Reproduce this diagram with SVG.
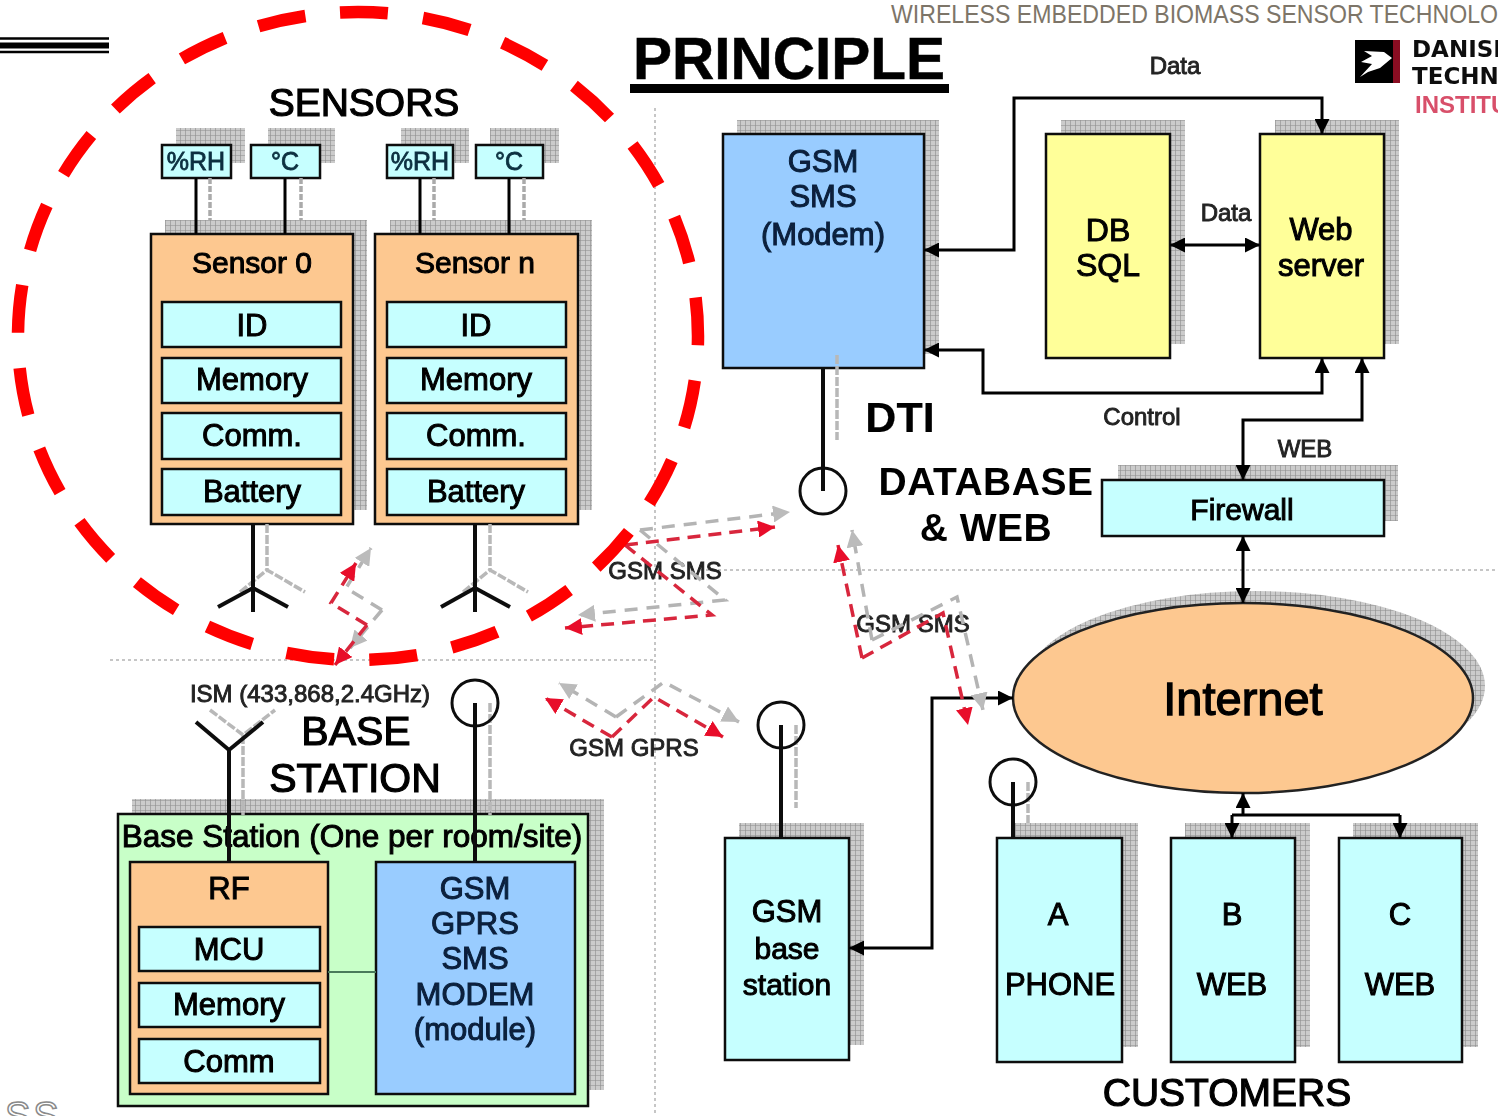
<svg xmlns="http://www.w3.org/2000/svg" width="1498" height="1116" viewBox="0 0 1498 1116">
<style>
text{font-family:"Liberation Sans",Arial,sans-serif;fill:#000;text-anchor:middle}
.sh{fill:url(#grid)}
.box{stroke:#111;stroke-width:2.5}
.or{fill:#fdc890}.cy{fill:#c6ffff}.bl{fill:#99ccff}.ye{fill:#ffff99}.gr{fill:#c8ffc8}
.t31{font-size:31px;stroke:#000;stroke-width:1}
.t30{font-size:30px;stroke:#000;stroke-width:1}
.t24{font-size:24px;stroke:#222;stroke-width:.9;fill:#222}
.big{font-size:41px;stroke:#000;stroke-width:1.2}
.tag{font-size:25px;fill:#0b3040;stroke:#0b3040;stroke-width:.8}
.navy{font-size:31px;fill:#08203c;stroke:#08203c;stroke-width:1}
.wire{fill:none;stroke:#000;stroke-width:3}
.ant{fill:none;stroke:#111;stroke-width:4}
.gw{fill:none;stroke:#aaa;stroke-width:3.5;stroke-dasharray:6 2}
.ga{fill:none;stroke:#b8b8b8;stroke-width:3.5;stroke-dasharray:9 2}
.circ{fill:none;stroke:#111;stroke-width:3}
.dot{fill:none;stroke:#b4b4b4;stroke-width:1.5;stroke-dasharray:3 3}
.rd{fill:none;stroke:#d8283c;stroke-width:3.5;stroke-dasharray:13 8}
.gd{fill:none;stroke:#b4b4b4;stroke-width:3.5;stroke-dasharray:13 9}
</style>
<defs>
<pattern id="grid" width="5" height="5" patternUnits="userSpaceOnUse"><rect width="5" height="5" fill="#cbcbcb"/><path d="M0 0H5M0 0V5" stroke="#8c8c8c" stroke-width="1.200" fill="none"/></pattern>
<marker id="ab" viewBox="0 0 10 10" refX="10" refY="5" markerWidth="15" markerHeight="15" markerUnits="userSpaceOnUse" orient="auto-start-reverse"><path d="M0 0L10 5L0 10Z" fill="#000"/></marker>
<marker id="ar" viewBox="0 0 10 10" refX="10" refY="5" markerWidth="17" markerHeight="17" markerUnits="userSpaceOnUse" orient="auto"><path d="M0 0L10 5L0 10Z" fill="#e8102a"/></marker>
<marker id="ag" viewBox="0 0 10 10" refX="10" refY="5" markerWidth="17" markerHeight="17" markerUnits="userSpaceOnUse" orient="auto"><path d="M0 0L10 5L0 10Z" fill="#bbb"/></marker>
<filter id="soft" x="0" y="0" width="100%" height="100%"><feGaussianBlur stdDeviation="0.6"/></filter>
</defs>
<rect width="1498" height="1116" fill="#fff"/>
<g id="page">
<text x="891" y="23" style="font-size:26px;fill:#7d7568;text-anchor:start" textLength="607" lengthAdjust="spacingAndGlyphs">WIRELESS EMBEDDED BIOMASS SENSOR TECHNOLO</text>
<path d="M0 38.5H109M0 52H109" stroke="#000" stroke-width="2.5"/><path d="M0 45.500H109" stroke="#000" stroke-width="6"/>
<text x="5" y="1129" style="font-size:38px;fill:#fff;stroke:#8a8a8a;stroke-width:1.5;text-anchor:start;letter-spacing:3px">SS</text>
</g>
<g filter="url(#soft)">
<g id="guides">
<path class="dot" d="M655 108V1116M110 660H655M700 570H1498"/>
</g>
<g id="title">
<text x="789" y="79" style="font-size:58.500px;font-weight:bold;fill:#000;stroke:#000;stroke-width:.5">PRINCIPLE</text>
<rect x="630" y="84" width="319" height="9" fill="#000"/>
</g>
<g id="logo">
<rect x="1355" y="40" width="45" height="43" fill="#000"/><rect x="1393" y="40" width="7" height="43" fill="#8a1020"/>
<path d="M1360 77L1372 64L1361 62L1372 56L1364 51L1384 52L1392 58L1380 68L1368 72Z" fill="#fff"/>
<text x="1412" y="57" style="font-size:23px;font-weight:bold;font-family:'DejaVu Sans',sans-serif;text-anchor:start;fill:#111">DANISH</text>
<text x="1412" y="84" style="font-size:23px;font-weight:bold;font-family:'DejaVu Sans',sans-serif;text-anchor:start;fill:#111">TECHNO</text>
<text x="1415" y="113" style="font-size:24px;font-family:'Liberation Sans',sans-serif;font-weight:bold;text-anchor:start;fill:#d8506a">INSTITU</text>
</g>
<text id="sensors-title" x="364" y="116" class="big" style="font-size:39px">SENSORS</text>
<g id="tag-rh0"><rect class="sh" x="176" y="128" width="69" height="35"/><rect class="box cy" x="162" y="145" width="69" height="33"/><text x="196" y="170" class="tag">%RH</text></g>
<g id="tag-c0"><rect class="sh" x="268" y="128" width="67" height="35"/><rect class="box cy" x="251" y="145" width="69" height="33"/><text x="285" y="170" class="tag">°C</text></g>
<g id="tag-rhn"><rect class="sh" x="401" y="128" width="68" height="35"/><rect class="box cy" x="387" y="145" width="66" height="33"/><text x="420" y="170" class="tag">%RH</text></g>
<g id="tag-cn"><rect class="sh" x="490" y="128" width="69" height="35"/><rect class="box cy" x="476" y="145" width="67" height="33"/><text x="509" y="170" class="tag">°C</text></g>
<g id="sensor-0">
<rect class="sh" x="165" y="220" width="202" height="290"/><rect class="box or" x="151" y="234" width="202" height="290"/>
<text x="252" y="273" class="t30">Sensor 0</text>
<rect class="box cy" x="162" y="302" width="179" height="45"/><text x="252" y="336" class="t31">ID</text>
<rect class="box cy" x="162" y="358" width="179" height="45"/><text x="252" y="390" class="t31">Memory</text>
<rect class="box cy" x="162" y="413" width="179" height="46"/><text x="252" y="446" class="t31">Comm.</text>
<rect class="box cy" x="162" y="469" width="179" height="46"/><text x="252" y="502" class="t31">Battery</text>
</g>
<g id="sensor-n">
<rect class="sh" x="390" y="220" width="202" height="290"/><rect class="box or" x="375" y="234" width="203" height="290"/>
<text x="475" y="273" class="t30">Sensor n</text>
<rect class="box cy" x="387" y="302" width="179" height="45"/><text x="476" y="336" class="t31">ID</text>
<rect class="box cy" x="387" y="358" width="179" height="45"/><text x="476" y="390" class="t31">Memory</text>
<rect class="box cy" x="387" y="413" width="179" height="46"/><text x="476" y="446" class="t31">Comm.</text>
<rect class="box cy" x="387" y="469" width="179" height="46"/><text x="476" y="502" class="t31">Battery</text>
</g>
<g id="modem">
<rect class="sh" x="737" y="120" width="202" height="234"/><rect class="box bl" x="723" y="134" width="201" height="234"/>
<text x="823" y="172" class="navy">GSM</text><text x="823" y="207" class="navy">SMS</text><text x="823" y="245" class="navy">(Modem)</text>
</g>
<g id="db">
<rect class="sh" x="1061" y="120" width="124" height="224"/><rect class="box ye" x="1046" y="134" width="124" height="224"/>
<text x="1108" y="241" class="t31" style="font-size:32px">DB</text><text x="1108" y="276" class="t31" style="font-size:32px">SQL</text>
</g>
<g id="web">
<rect class="sh" x="1275" y="120" width="124" height="224"/><rect class="box ye" x="1260" y="134" width="124" height="224"/>
<text x="1321" y="240" class="t31">Web</text><text x="1321" y="276" class="t31">server</text>
</g>
<g id="firewall">
<rect class="sh" x="1118" y="465" width="280" height="56"/><rect class="box cy" x="1102" y="480" width="282" height="56"/>
<text x="1242" y="520" class="t30">Firewall</text>
</g>
<g id="internet">
<ellipse class="sh" cx="1255" cy="686" rx="230" ry="95"/>
<ellipse cx="1243" cy="698" rx="230" ry="95" fill="#fdc890" stroke="#222" stroke-width="2.5"/>
<text x="1243" y="715" style="font-size:47px;stroke:#000;stroke-width:1.300">Internet</text>
</g>
<g id="gsm-base">
<rect class="sh" x="739" y="823" width="125" height="222"/><rect class="box cy" x="725" y="838" width="124" height="222"/>
<text x="787" y="922" class="t31">GSM</text><text x="787" y="959" class="t30">base</text><text x="787" y="995" class="t30">station</text>
</g>
<g id="customer-a">
<rect class="sh" x="1013" y="823" width="125" height="224"/><rect class="box cy" x="997" y="838" width="125" height="224"/>
<text x="1058" y="925" class="t31">A</text><text x="1060" y="995" class="t31">PHONE</text>
</g>
<g id="customer-b">
<rect class="sh" x="1185" y="823" width="125" height="224"/><rect class="box cy" x="1171" y="838" width="124" height="224"/>
<text x="1232" y="925" class="t31">B</text><text x="1232" y="995" class="t31">WEB</text>
</g>
<g id="customer-c">
<rect class="sh" x="1353" y="823" width="125" height="224"/><rect class="box cy" x="1339" y="838" width="123" height="224"/>
<text x="1400" y="925" class="t31">C</text><text x="1400" y="995" class="t31">WEB</text>
</g>
<g id="base-station">
<rect class="sh" x="132" y="799" width="472" height="291"/><rect class="box gr" x="118" y="814" width="470" height="292"/>
<text x="352" y="847" class="t30" style="font-size:31.500px">Base Station (One per room/site)</text>
<rect class="box or" x="130" y="862" width="198" height="232"/>
<text x="229" y="899" class="t31">RF</text>
<rect class="box cy" x="139" y="927" width="181" height="44"/><text x="229" y="960" class="t31">MCU</text>
<rect class="box cy" x="139" y="983" width="181" height="44"/><text x="229" y="1015" class="t31">Memory</text>
<rect class="box cy" x="139" y="1039" width="181" height="44"/><text x="229" y="1072" class="t31">Comm</text>
<rect class="box bl" x="376" y="862" width="199" height="232"/>
<text x="475" y="899" class="navy">GSM</text><text x="475" y="934" class="navy">GPRS</text><text x="475" y="969" class="navy">SMS</text><text x="475" y="1005" class="navy">MODEM</text><text x="475" y="1040" class="navy">(module)</text>
<path d="M328 972H376" stroke="#4a7a5a" stroke-width="2" fill="none"/>
</g>
<g id="labels">
<text x="900" y="432" style="font-size:43px;font-weight:bold;stroke:#111;stroke-width:.2">DTI</text>
<text x="986" y="495" style="font-size:39px;font-weight:bold;letter-spacing:.5px">DATABASE</text>
<text x="986" y="541" style="font-size:39px;font-weight:bold;letter-spacing:.5px">&amp; WEB</text>
<text x="356" y="745" class="big">BASE</text>
<text x="355" y="792" class="big">STATION</text>
<text x="1227" y="1106" class="big" style="font-size:39px">CUSTOMERS</text>
<text x="310" y="702" class="t24">ISM (433,868,2.4GHz)</text>
<text x="1175" y="74" class="t24">Data</text>
<text x="1226" y="221" class="t24">Data</text>
<text x="1142" y="425" class="t24">Control</text>
<text x="1305" y="457" class="t24">WEB</text>
<text x="665" y="579" class="t24">GSM SMS</text>
<text x="913" y="632" class="t24">GSM SMS</text>
<text x="634" y="756" class="t24">GSM GPRS</text>
</g>
<g id="connectors">
<path class="gw" d="M210 178V220M301 178V220M434 178V220M524 178V220"/>
<path class="wire" d="M196 178V234M285 178V234M420 178V234M509 178V234"/>
<path class="ga" d="M267 524V570M240 592L267 570L305 592M490 524V570M463 592L490 570L528 592"/>
<path class="ant" d="M253 524V612M218 607L253 588L288 607M475 524V612M441 607L475 588L510 607"/>
<path class="ga" d="M243 735V815M210 710L243 735L275 710M490 703V815M796 725V808M1028 782V823M837 355V440"/>
<path class="ant" d="M229 750V862M196 722L229 750L263 722M475 703V862M781 725V838M1013 782V838M823 368V491"/>
<circle class="circ" cx="475" cy="703" r="23"/><circle class="circ" cx="781" cy="725" r="23"/><circle class="circ" cx="1013" cy="782" r="23"/><circle class="circ" cx="823" cy="491" r="23"/>
<path class="wire" marker-start="url(#ab)" marker-end="url(#ab)" d="M1322 134V98H1014V250H924"/>
<path class="wire" marker-start="url(#ab)" marker-end="url(#ab)" d="M1170 245H1260"/>
<path class="wire" marker-start="url(#ab)" marker-end="url(#ab)" d="M924 350H983V393H1322V358"/>
<path class="wire" marker-start="url(#ab)" marker-end="url(#ab)" d="M1243 480V420H1362V358"/>
<path class="wire" marker-start="url(#ab)" marker-end="url(#ab)" d="M1243 536V603"/>
<path class="wire" marker-start="url(#ab)" marker-end="url(#ab)" d="M849 948H932V698H1013"/>
<path class="wire" marker-end="url(#ab)" d="M1243 815V793"/>
<path class="wire" d="M1232 815H1400"/>
<path class="wire" marker-end="url(#ab)" d="M1400 815V838"/>
<path class="wire" marker-end="url(#ab)" d="M1232 815V838"/>
<path class="gd" marker-end="url(#ag)" d="M382 610L346 588L371 548"/>
<path class="gd" marker-end="url(#ag)" d="M382 610L350 648"/>
<path class="rd" marker-end="url(#ar)" d="M367 625L331 603L356 563"/>
<path class="rd" marker-end="url(#ar)" d="M367 625L335 665"/>
<path class="gd" marker-end="url(#ag)" d="M640 530L790 512"/>
<path class="gd" marker-end="url(#ag)" d="M640 530L725 600L578 615"/>
<path class="rd" marker-end="url(#ar)" d="M625 545L775 527"/>
<path class="rd" marker-end="url(#ar)" d="M625 545L712 615L565 628"/>
<path class="gd" marker-end="url(#ag)" d="M616 717L559 683"/>
<path class="gd" marker-end="url(#ag)" d="M616 717L664 682L739 722"/>
<path class="rd" marker-end="url(#ar)" d="M612 737L545 698"/>
<path class="rd" marker-end="url(#ar)" d="M612 737L654 697L723 737"/>
<path class="gd" marker-end="url(#ag)" d="M872 640L852 530"/>
<path class="gd" marker-end="url(#ag)" d="M872 640L957 597L983 710"/>
<path class="rd" marker-end="url(#ar)" d="M862 658L838 545"/>
<path class="rd" marker-end="url(#ar)" d="M862 658L943 613L968 725"/>
</g>
</g>
<g id="highlight">
<path d="M340 12.500A340 324 0 0 1 698 336A340 324 0 0 1 358 660A340 324 0 0 1 18 336A340 324 0 0 1 340 12.500Z" fill="none" stroke="#f00" stroke-width="12.500" stroke-dasharray="48 35.440"/>
</g>
</svg>
